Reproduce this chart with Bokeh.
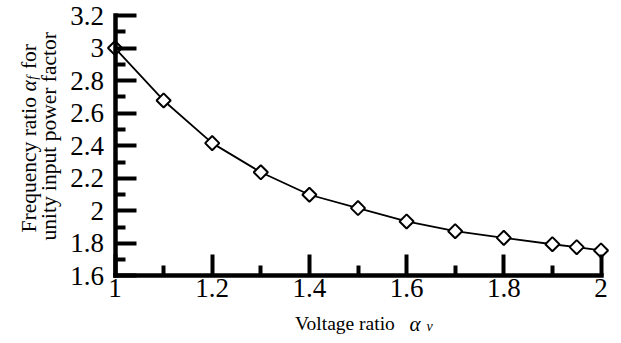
import math
from bokeh.plotting import figure
from bokeh.models import Range1d, FixedTicker, Label
from bokeh.embed import file_html
from bokeh.resources import INLINE

# ---- data ----
voltage_ratio = [1.0, 1.1, 1.2, 1.3, 1.4, 1.5, 1.6, 1.7, 1.8, 1.9, 1.95, 2.0]
frequency_ratio = [3.0, 2.678, 2.416, 2.237, 2.099, 2.017, 1.935, 1.875, 1.834, 1.795, 1.777, 1.757]

x_ticks = [1.0, 1.2, 1.4, 1.6, 1.8, 2.0]
x_tick_labels = ["1", "1.2", "1.4", "1.6", "1.8", "2"]
x_minor_ticks = [1.1, 1.3, 1.5, 1.7, 1.9]
y_ticks = [1.6, 1.8, 2.0, 2.2, 2.4, 2.6, 2.8, 3.0, 3.2]
y_tick_labels = ["1.6", "1.8", "2", "2.2", "2.4", "2.6", "2.8", "3", "3.2"]
y_minor_ticks = [1.7, 1.9, 2.1, 2.3, 2.5, 2.7, 2.9, 3.1]

x_min, x_max = 1.0, 2.0
y_min, y_max = 1.6, 3.2

SERIF = "Liberation Serif, Times New Roman, Times, serif"

p = figure(width=621, height=343, output_backend="svg", toolbar_location=None,
           x_range=Range1d(0.76440, 2.04218), y_range=Range1d(1.18526, 3.29214),
           min_border=0, min_border_left=0, min_border_right=0,
           min_border_top=0, min_border_bottom=0)
p.outline_line_color = None
p.grid.visible = False
p.background_fill_color = "white"
p.border_fill_color = "white"

p.line(voltage_ratio, frequency_ratio, line_color="black", line_width=1.8)
p.scatter(voltage_ratio, frequency_ratio, marker="square", angle=math.pi / 4, size=10,
          fill_color="white", line_color="black", line_width=2)

xa = p.xaxis[0]
ya = p.yaxis[0]
xa.ticker = FixedTicker(ticks=x_ticks, minor_ticks=x_minor_ticks)
ya.ticker = FixedTicker(ticks=y_ticks, minor_ticks=y_minor_ticks)
xa.major_label_overrides = dict(zip(x_ticks, x_tick_labels))
ya.major_label_overrides = dict(zip(y_ticks, y_tick_labels))
xa.fixed_location = y_min
ya.fixed_location = x_min
xa.bounds = (x_min, x_max)
ya.bounds = (y_min, y_max)

for ax in (xa, ya):
    ax.axis_line_color = "black"
    ax.axis_line_width = 4.5
    ax.axis_line_cap = "square"
    ax.major_tick_line_color = "black"
    ax.minor_tick_line_color = "black"
    ax.major_tick_line_width = 4
    ax.minor_tick_line_width = 4
    ax.major_tick_in = 21
    ax.major_tick_out = 0
    ax.minor_tick_in = 10
    ax.minor_tick_out = 0
    ax.major_label_text_font = SERIF
    ax.major_label_text_font_size = "27px"
    ax.major_label_text_color = "black"
    ax.axis_label = None
xa.major_label_standoff = 3
ya.major_label_standoff = 11


def add(text, x, y, xo, yo, size, style="normal", angle=0.0):
    p.add_layout(Label(x=x, y=y, x_offset=xo, y_offset=yo, text=text, angle=angle,
                       text_font=SERIF, text_font_size=size, text_font_style=style,
                       text_color="black", text_align="left", text_baseline="alphabetic"))


# ---- x axis label: "Voltage ratio α_v" ----
xl_x = (x_min + x_max) / 2
add("Voltage ratio", xl_x, y_min, -63.0, -48.0, "19.5px")
add("α", xl_x, y_min, 51.5, -48.0, "21px", "italic")
add("v", xl_x, y_min, 68.5, -50.5, "14px", "italic")

# ---- y axis label (two rotated lines) ----
a = math.pi / 2
add("Frequency ratio", x_min, y_min, -86.5, 43.5, "21.5px", angle=a)
add("α", x_min, y_min, -86.5, 184.4, "21.5px", "italic", angle=a)
add("f", x_min, y_min, -82.5, 196.2, "14px", "italic", angle=a)
add("for", x_min, y_min, -86.5, 206.9, "21.5px", angle=a)
add("unity input power factor", x_min, y_min, -66.5, 35.5, "21.5px", angle=a)

open("out.html", "w").write(file_html(p, INLINE))
